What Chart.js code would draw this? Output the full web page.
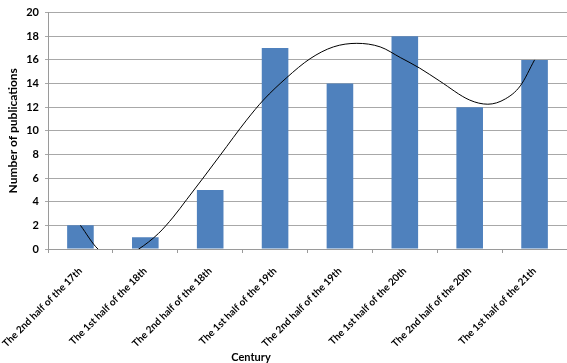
<!DOCTYPE html>
<html>
<head>
<meta charset="utf-8">
<script src="https://cdn.jsdelivr.net/npm/chart.js@4"></script>
<style>
  html, body { margin: 0; padding: 0; background: #fff; }
  #wrap { width: 567px; height: 363px; }
</style>
</head>
<body>
<div id="wrap"><canvas id="chart"></canvas></div>
<script>
// DATA
const categories = [
  "The 2nd half of the 17th",
  "The 1st half of the 18th",
  "The 2nd half of the 18th",
  "The 1st half of the 19th",
  "The 2nd half of the 19th",
  "The 1st half of the 20th",
  "The 2nd half of the 20th",
  "The 1st half of the 21th"
];
const publications = [2, 1, 5, 17, 14, 18, 12, 16];

// trendline (x = category position, 1..8)
const trendX = [1.0, 1.27, 1.6, 1.9, 2.2, 2.43, 2.64, 2.89, 3.15, 3.56, 3.82, 4.18, 4.54, 4.9, 5.26, 5.62, 5.93, 6.23, 6.54, 7.0, 7.28, 7.55, 7.78, 8.0];
const trendY = [2.0, 0, -0.9, 0, 1.3, 2.7, 4.2, 6.0, 7.9, 10.9, 12.6, 14.5, 16.1, 17.1, 17.4, 17.1, 16.2, 15.3, 14.2, 12.6, 12.25, 12.7, 13.8, 16.0];

const yTicks = [0, 2, 4, 6, 8, 10, 12, 14, 16, 18, 20];

const FONT = "Lato, 'Open Sans', sans-serif";

// "Century" title drawn under the rotated labels
const centuryTitle = {
  id: "centuryTitle",
  afterDraw(chart) {
    const ctx = chart.ctx;
    ctx.save();
    ctx.font = "bold 11px " + FONT;
    ctx.fillStyle = "#000";
    ctx.textAlign = "center";
    ctx.textBaseline = "middle";
    ctx.fillText("Century", 251, 357);
    ctx.restore();
  }
};

new Chart(document.getElementById("chart"), {
  type: "bar",
  data: {
    labels: categories,
    datasets: [
      {
        type: "bar",
        data: publications,
        backgroundColor: "#4f81bd",
        grouped: false,
        categoryPercentage: 1,
        barPercentage: 0.41,
        xAxisID: "x",
        order: 2
      },
      {
        type: "line",
        data: trendX.map((x, i) => ({ x: x, y: trendY[i] })),
        borderColor: "#000",
        borderWidth: 1,
        pointRadius: 0,
        tension: 0.4,
        cubicInterpolationMode: "monotone",
        xAxisID: "x2",
        order: 1
      }
    ]
  },
  options: {
    responsive: true,
    maintainAspectRatio: false,
    animation: false,
    layout: { padding: { top: 4, right: 0, left: 0, bottom: 0 } },
    plugins: { legend: { display: false }, tooltip: { enabled: false } },
    scales: {
      x: {
        type: "category",
        offset: true,
        grid: { offset: true, drawOnChartArea: false, color: "#9a9a9a", tickLength: 4 },
        border: { color: "#9a9a9a" },
        ticks: {
          minRotation: 45, maxRotation: 45, padding: 12, autoSkip: false,
          color: "#000", font: { family: FONT, size: 10, weight: "bold" }
        },
        afterFit(scale) {
          scale.height = 114;
          scale.paddingLeft = 0;
          scale.paddingRight = 0;
        }
      },
      x2: {
        type: "linear",
        position: "bottom",
        offset: false,
        min: 0.5,
        max: 8.5,
        grid: { display: false, offset: false },
        border: { display: false },
        ticks: { display: false },
        afterFit(scale) {
          scale.height = 0;
          scale.paddingLeft = 0;
          scale.paddingRight = 0;
        }
      },
      y: {
        min: 0,
        max: 20,
        afterBuildTicks(scale) { scale.ticks = yTicks.map(v => ({ value: v })); },
        grid: { color: "#a8a8a8", tickLength: 3 },
        border: { color: "#9a9a9a" },
        ticks: {
          padding: 6, color: "#000",
          font: { family: FONT, size: 11, weight: "bold" }
        },
        title: {
          display: true,
          text: "Number of publications",
          color: "#000",
          padding: { top: 6, bottom: 0 },
          font: { family: FONT, size: 12, weight: "bold" }
        },
        afterFit(scale) { scale.width = 48; }
      }
    }
  },
  plugins: [centuryTitle]
});
</script>
</body>
</html>
